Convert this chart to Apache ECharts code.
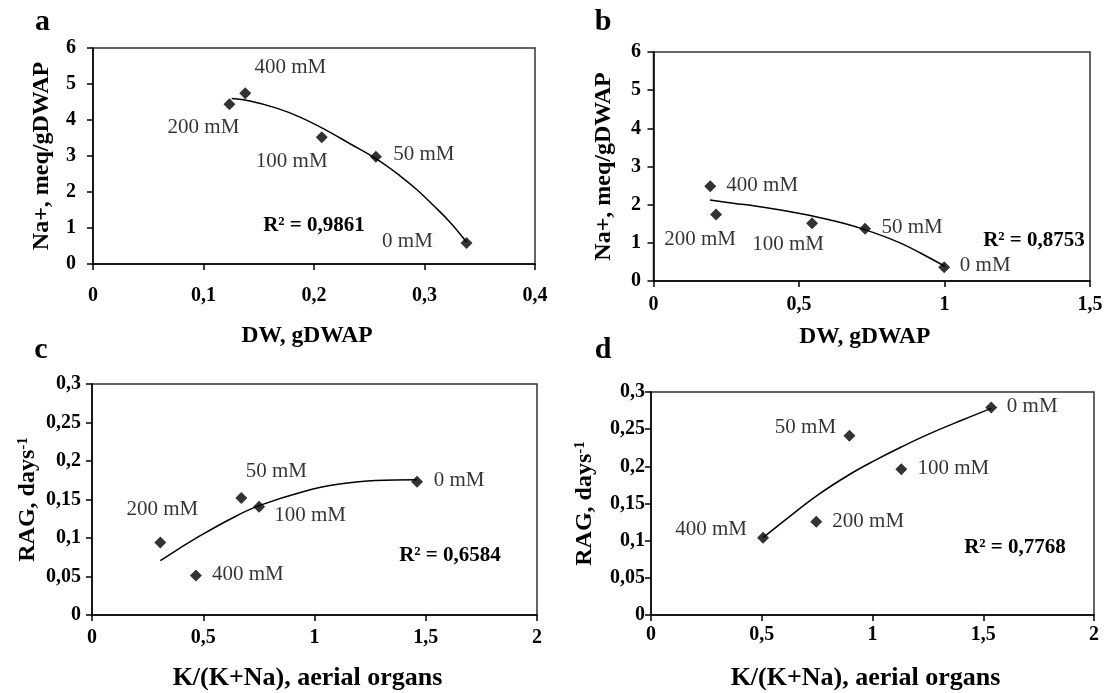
<!DOCTYPE html>
<html><head><meta charset="utf-8">
<script src="https://cdn.jsdelivr.net/npm/echarts@6/dist/echarts.min.js"></script>
<style>html,body{margin:0;padding:0;background:#fff}#c{width:1112px;height:693px}</style>
</head><body><div id="c"></div>
<script>
// ---------- data ----------
const treatments = ['0 mM', '50 mM', '100 mM', '200 mM', '400 mM'];

// a
const dwA = [0.338, 0.256, 0.207, 0.1235, 0.1378];
const naA = [0.58, 2.98, 3.52, 4.44, 4.74];
const trendAx = [0.1255, 0.1421, 0.1662, 0.1873, 0.2084, 0.2326, 0.2567, 0.2778, 0.2929, 0.3080, 0.3231, 0.338];
const trendAy = [4.60, 4.53, 4.33, 4.08, 3.76, 3.34, 2.91, 2.45, 2.07, 1.63, 1.16, 0.61];

// b
const dwB = [0.999, 0.727, 0.545, 0.215, 0.195];
const naB = [0.36, 1.37, 1.51, 1.74, 2.48];
const trendBx = [0.194, 0.274, 0.389, 0.503, 0.618, 0.721, 0.847, 0.962, 1.002];
const trendBy = [2.12, 2.04, 1.92, 1.77, 1.58, 1.36, 1.00, 0.55, 0.38];

// c
const kC = [1.461, 0.671, 0.751, 0.307, 0.467];
const ragC = [0.173, 0.152, 0.1405, 0.0942, 0.0514];
const trendCx = [0.307, 0.390, 0.470, 0.631, 0.751, 0.952, 1.112, 1.273, 1.461];
const trendCy = [0.0705, 0.0860, 0.1002, 0.1260, 0.1420, 0.1605, 0.1700, 0.1748, 0.1755];

// d
const kD = [1.536, 0.896, 1.13, 0.746, 0.506];
const ragD = [0.279, 0.241, 0.196, 0.1256, 0.104];
const trendDx = [0.506, 0.611, 0.746, 0.896, 1.011, 1.13, 1.251, 1.411, 1.536];
const trendDy = [0.104, 0.129, 0.160, 0.189, 0.208, 0.226, 0.243, 0.263, 0.278];

const r2Values = ['0,9861', '0,8753', '0,6584', '0,7768'];
const panelLetters = ['a', 'b', 'c', 'd'];
const xTitles = ['DW, gDWAP', 'DW, gDWAP', 'K/(K+Na), aerial organs', 'K/(K+Na), aerial organs'];
const yTitles = ['Na+, meq/gDWAP', 'Na+, meq/gDWAP', 'RAG, days{sup|-1}', 'RAG, days{sup|-1}'];
const xRanges = [[0, 0.4, 0.1], [0, 1.5, 0.5], [0, 2, 0.5], [0, 2, 0.5]];
const yRanges = [[0, 6, 1], [0, 6, 1], [0, 0.3, 0.05], [0, 0.3, 0.05]];

// ---------- layout (positions / styles) ----------
const SERIF = '"Liberation Serif", "Times New Roman", serif';
const grids = [
  {left: 93, top: 48, width: 442, height: 216},
  {left: 653.5, top: 52, width: 436.5, height: 229},
  {left: 92, top: 384, width: 445, height: 231},
  {left: 651, top: 392, width: 443, height: 223}
];
const xLabelMargin = [22, 14, 13, 10];
const xNameGap = [60, 44, 50, 50];
const xNameSize = [23.5, 23.5, 26, 26];
const yLabelMargin = [17, 12.5, 11, 6];
const yNameGap = [39, 38, 52, 54];
const labelOffsets = [
  {'0 mM': [-59, -2], '50 mM': [48, -2], '100 mM': [-30, 24], '200 mM': [-26, 23], '400 mM': [45, -26]},
  {'0 mM': [41, -2], '50 mM': [47, -1], '100 mM': [-24, 21], '200 mM': [-16, 25], '400 mM': [52, -1]},
  {'0 mM': [42, -1], '50 mM': [35, -26], '100 mM': [51, 9], '200 mM': [2, -33], '400 mM': [52, -1]},
  {'0 mM': [41, -1], '50 mM': [-44, -8], '100 mM': [52, -1], '200 mM': [52, 0], '400 mM': [-52, -8]}
];
const r2Pos = [[314, 226], [1034, 241], [450, 556], [1015, 548]];
const letterPos = [[42.5, 22], [603, 22], [41, 350], [603, 350]];

const fmt = v => String(Math.round(v * 1000) / 1000).replace('.', ',');

const scatterX = [dwA, dwB, kC, kD];
const scatterY = [naA, naB, ragC, ragD];
const trendX = [trendAx, trendBx, trendCx, trendDx];
const trendY = [trendAy, trendBy, trendCy, trendDy];

const axisLine = {show: true, onZero: false, lineStyle: {color: '#000', width: 1.5}};
const axisTick = {show: true, inside: false, length: 6, lineStyle: {color: '#000', width: 1.5}};

const option = {
  animation: false,
  backgroundColor: '#fff',
  grid: grids.map(g => Object.assign({show: true, borderColor: '#333', borderWidth: 1.5, backgroundColor: 'transparent'}, g)),
  xAxis: grids.map((g, i) => ({
    type: 'value', gridIndex: i,
    min: xRanges[i][0], max: xRanges[i][1], interval: xRanges[i][2],
    axisLine, axisTick, splitLine: {show: false},
    axisLabel: {margin: xLabelMargin[i], formatter: fmt, fontFamily: SERIF, fontWeight: 'bold', fontSize: 20, color: '#000'},
    name: xTitles[i], nameLocation: 'middle', nameGap: xNameGap[i],
    nameTextStyle: {fontFamily: SERIF, fontWeight: 'bold', fontSize: xNameSize[i], color: '#000', padding: [0, 14, 0, 0]}
  })),
  yAxis: grids.map((g, i) => ({
    type: 'value', gridIndex: i,
    min: yRanges[i][0], max: yRanges[i][1], interval: yRanges[i][2],
    axisLine, axisTick, splitLine: {show: false},
    axisLabel: {margin: yLabelMargin[i], formatter: fmt, fontFamily: SERIF, fontWeight: 'bold', fontSize: 20, color: '#000'},
    name: yTitles[i], nameLocation: 'middle', nameGap: yNameGap[i],
    nameTextStyle: {
      fontFamily: SERIF, fontWeight: 'bold', fontSize: 24, color: '#000',
      rich: {sup: {fontFamily: SERIF, fontWeight: 'bold', fontSize: 15, color: '#000', verticalAlign: 'top', lineHeight: 24}}
    }
  })),
  series: [],
  graphic: []
};

for (let i = 0; i < 4; i++) {
  option.series.push({
    type: 'line', xAxisIndex: i, yAxisIndex: i,
    data: trendX[i].map((x, k) => [x, trendY[i][k]]),
    showSymbol: false, symbol: 'none', smooth: 0.4,
    lineStyle: {color: '#000', width: 1.5}, z: 2, silent: true
  });
  option.series.push({
    type: 'scatter', xAxisIndex: i, yAxisIndex: i,
    symbol: 'diamond', symbolSize: 12,
    itemStyle: {color: '#000'}, z: 3,
    data: treatments.map((t, k) => ({
      value: [scatterX[i][k], scatterY[i][k]],
      label: {
        show: true, formatter: t, position: 'inside', offset: labelOffsets[i][t],
        fontFamily: SERIF, fontSize: 21, color: '#000', fontWeight: 'normal',
        textBorderWidth: 0, textBorderColor: 'transparent', textShadowBlur: 0
      }
    }))
  });
  option.graphic.push({
    type: 'text', x: r2Pos[i][0], y: r2Pos[i][1], z: 10,
    style: {text: 'R² = ' + r2Values[i], font: 'bold 21px ' + SERIF, fill: '#000', align: 'center', verticalAlign: 'middle'}
  });
  option.graphic.push({
    type: 'text', x: letterPos[i][0], y: letterPos[i][1], z: 10,
    style: {text: panelLetters[i], font: 'bold 30px ' + SERIF, fill: '#000', align: 'center', verticalAlign: 'middle'}
  });
}

const chart = echarts.init(document.getElementById('c'), null, {renderer: 'canvas'});
chart.setOption(option);
</script></body></html>
